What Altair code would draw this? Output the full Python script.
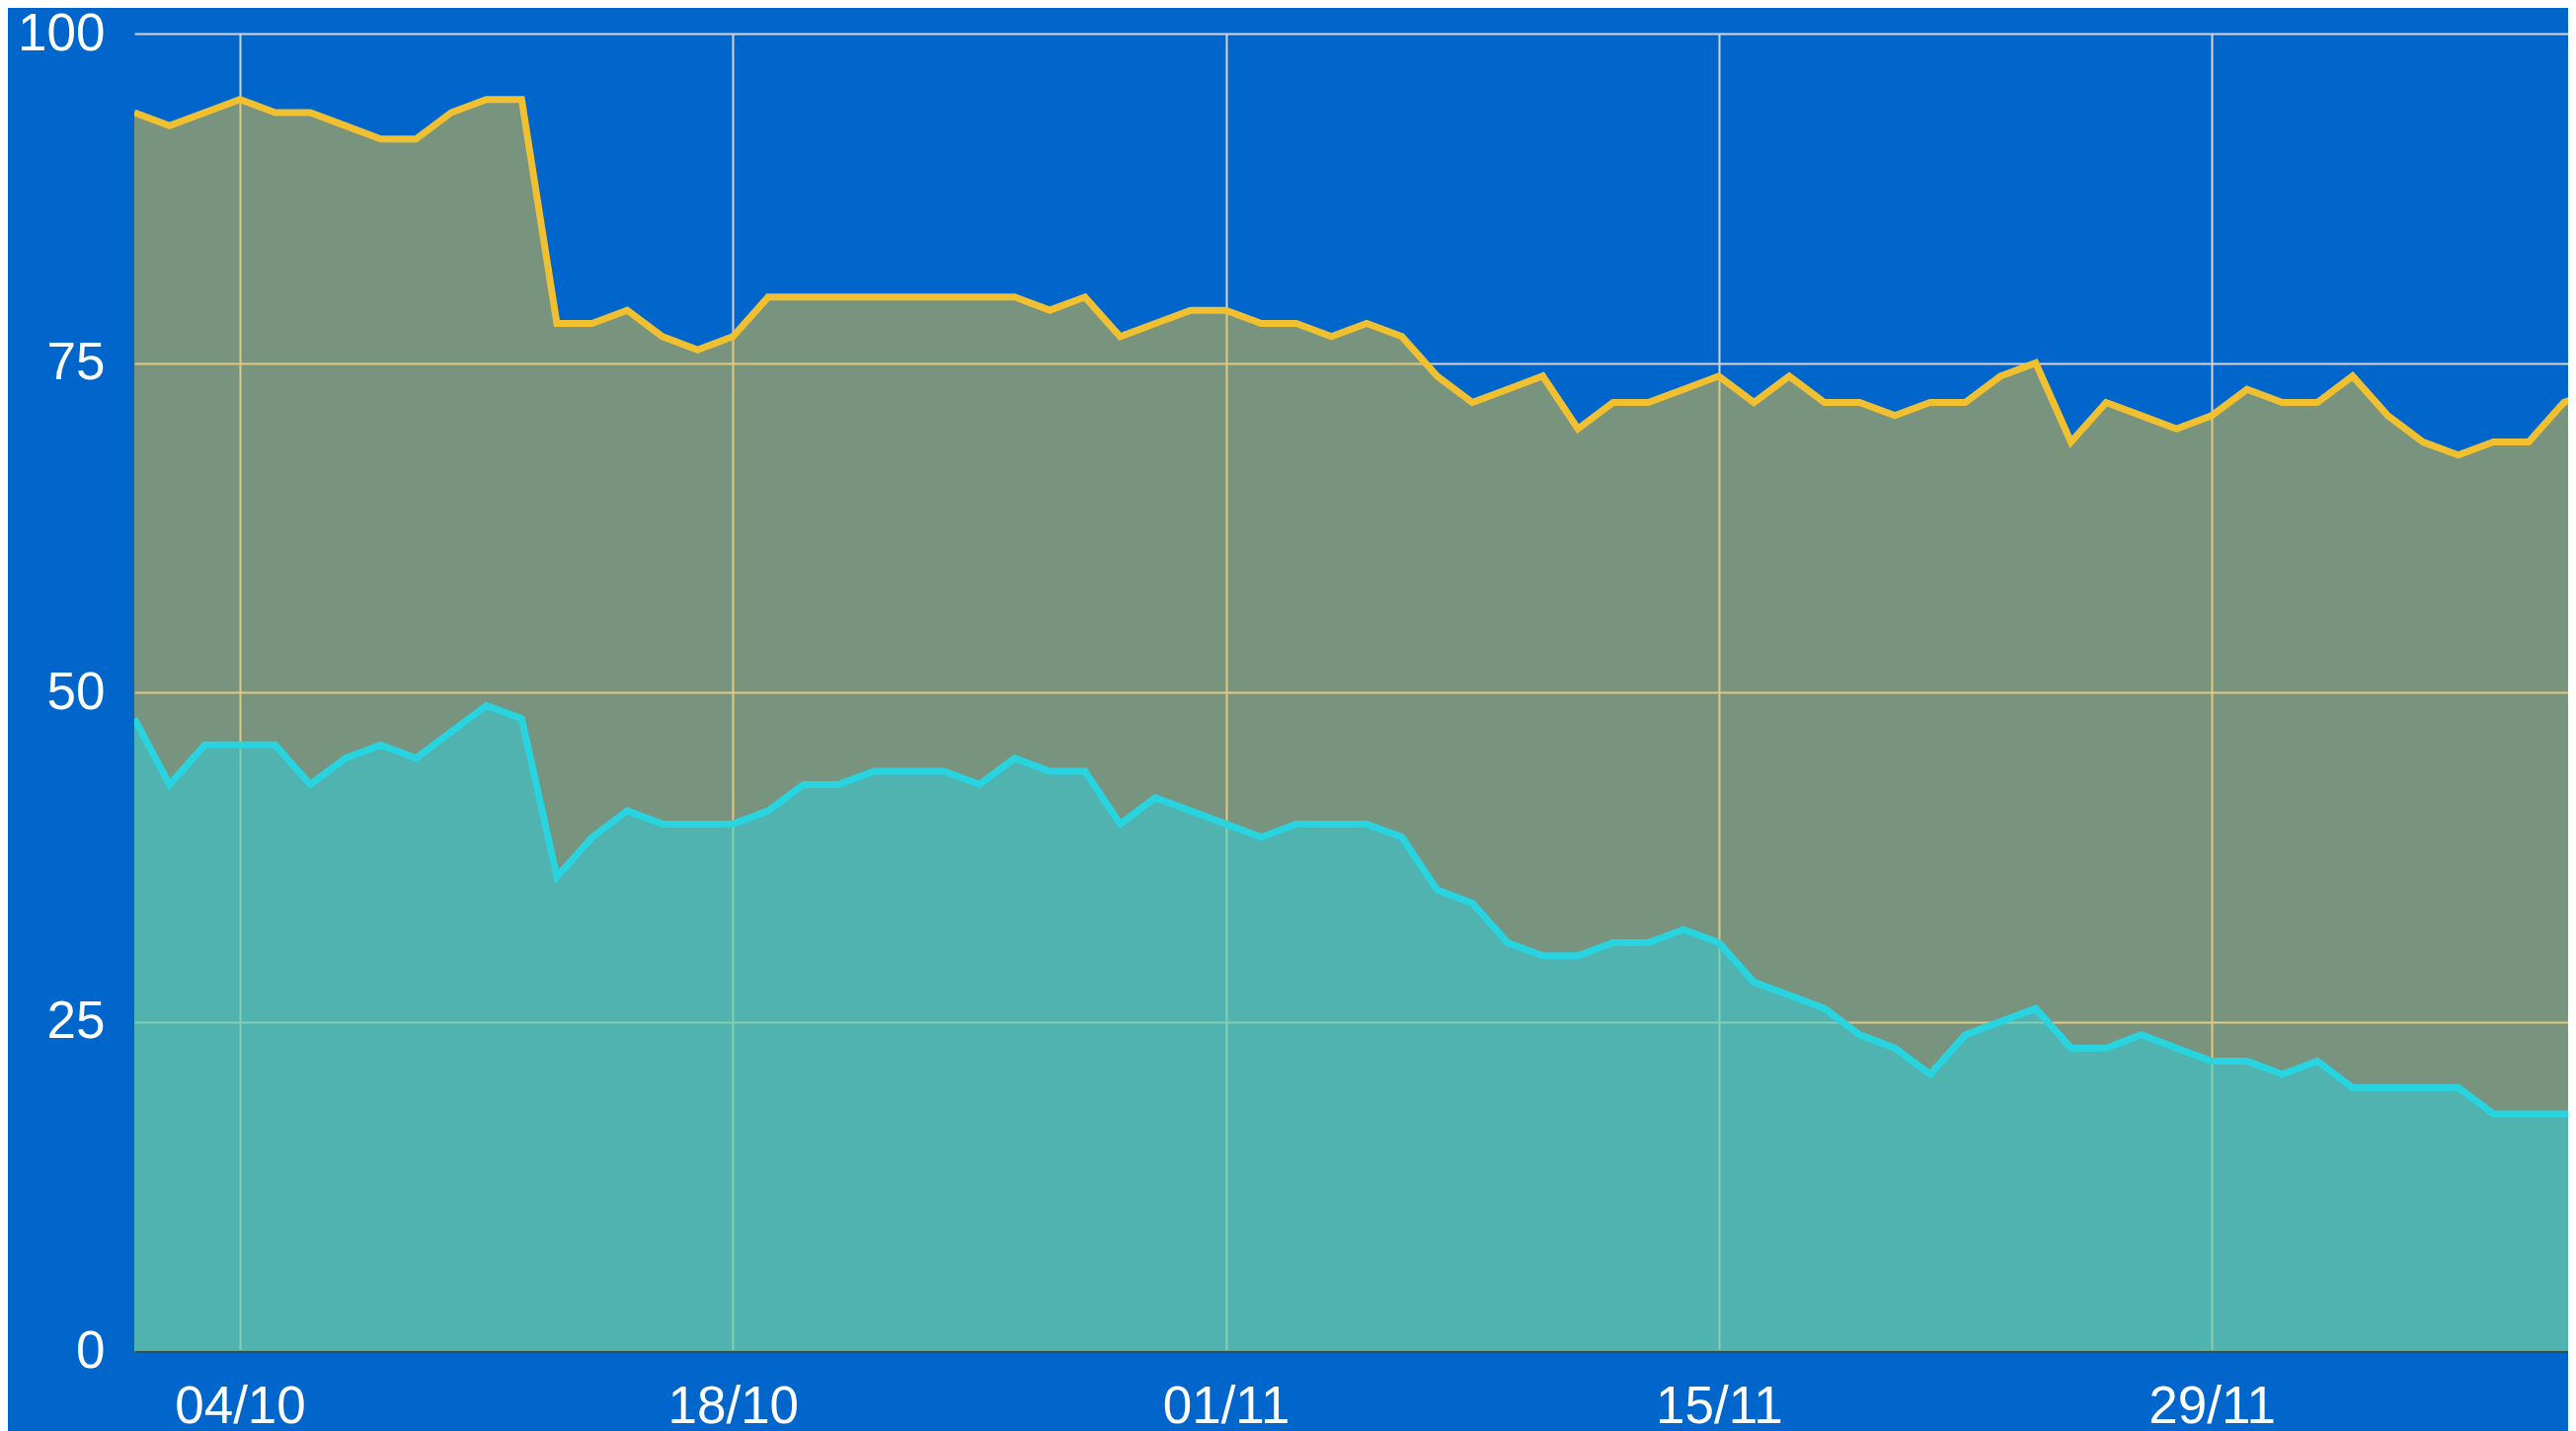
import altair as alt
import pandas as pd

# ---- data (daily values, 01/10 onwards) ----
dates = [d.strftime("%Y-%m-%d") for d in pd.date_range("2023-10-01", periods=71, freq="D")]
yellow_vals = [94, 93, 94, 95, 94, 94, 93, 92, 92, 94, 95, 95,
               78, 78, 79, 77, 76, 77,
               80, 80, 80, 80, 80, 80, 80, 80, 79, 80,
               77, 78, 79, 79, 78, 78, 77, 78, 77,
               74, 72, 73, 74, 70, 72, 72, 73, 74, 72, 74, 72, 72, 71, 72, 72, 74, 75,
               69, 72, 71, 70, 71, 73, 72, 72, 74, 71, 69, 68, 69, 69, 72, 73]
cyan_vals = [48, 43, 46, 46, 46, 43, 45, 46, 45, 47, 49, 48,
             36, 39, 41, 40, 40, 40,
             41, 43, 43, 44, 44, 44, 43, 45, 44, 44,
             40, 42, 41, 40, 39, 40, 40, 40, 39,
             35, 34, 31, 30, 30, 31, 31, 32, 31,
             28, 27, 26, 24, 23, 21, 24, 25, 26, 23, 23, 24, 23,
             22, 22, 21, 22, 20, 20, 20, 20, 18, 18, 18, 18]
y_ticks = [0, 25, 50, 75, 100]
x_tick_days = [4, 18, 1, 15, 29]
x_tick_months = [10, 10, 11, 11, 11]

df = pd.DataFrame({"date": dates, "yellow": yellow_vals, "cyan": cyan_vals})

x_domain = [alt.DateTime(year=2023, month=10, date=1, utc=True),
            alt.DateTime(year=2023, month=12, date=9, hours=2, minutes=53, utc=True)]
x_values = [alt.DateTime(year=2023, month=m, date=d, utc=True)
            for d, m in zip(x_tick_days, x_tick_months)]

x_enc = alt.X("date:T",
              scale=alt.Scale(type="utc", domain=x_domain),
              axis=alt.Axis(values=x_values, format="%d/%m", title=None,
                            labelPadding=30, domain=True, domainColor="#34523f",
                            domainWidth=3, labelFlush=False))

def y_enc(field):
    return alt.Y(f"{field}:Q",
                 scale=alt.Scale(domain=[0, 100], nice=False),
                 axis=alt.Axis(values=y_ticks, title=None, labelPadding=30,
                               domain=False, labelFlush=False))

YELLOW = "#F0C030"
CYAN = "#28D4E0"

base = alt.Chart(df)
yellow_area = base.mark_area(color=YELLOW, opacity=0.5, clip=True).encode(x=x_enc, y=y_enc("yellow"))
yellow_line = base.mark_line(color=YELLOW, strokeWidth=7, clip=True).encode(x=x_enc, y=y_enc("yellow"))
cyan_area = base.mark_area(color=CYAN, opacity=0.5, clip=True).encode(x=x_enc, y=y_enc("cyan"))
cyan_line = base.mark_line(color=CYAN, strokeWidth=7, clip=True).encode(x=x_enc, y=y_enc("cyan"))

chart = alt.layer(yellow_area, yellow_line, cyan_area, cyan_line).properties(
    width=2465,
    height=1334,
    padding={"left": 128, "top": 26, "right": 0, "bottom": 84},
    autosize=alt.AutoSizeParams(type="none"),
    background="#0066CC",
).configure_view(
    strokeOpacity=0
).configure_axis(
    grid=True,
    gridColor="#d4d4d4",
    gridWidth=2,
    ticks=False,
    tickSize=0,
    labelColor="white",
    labelFont="Liberation Sans",
    labelFontSize=53,
)

chart.save("out.html", embed_options={"renderer": "svg", "actions": False})
